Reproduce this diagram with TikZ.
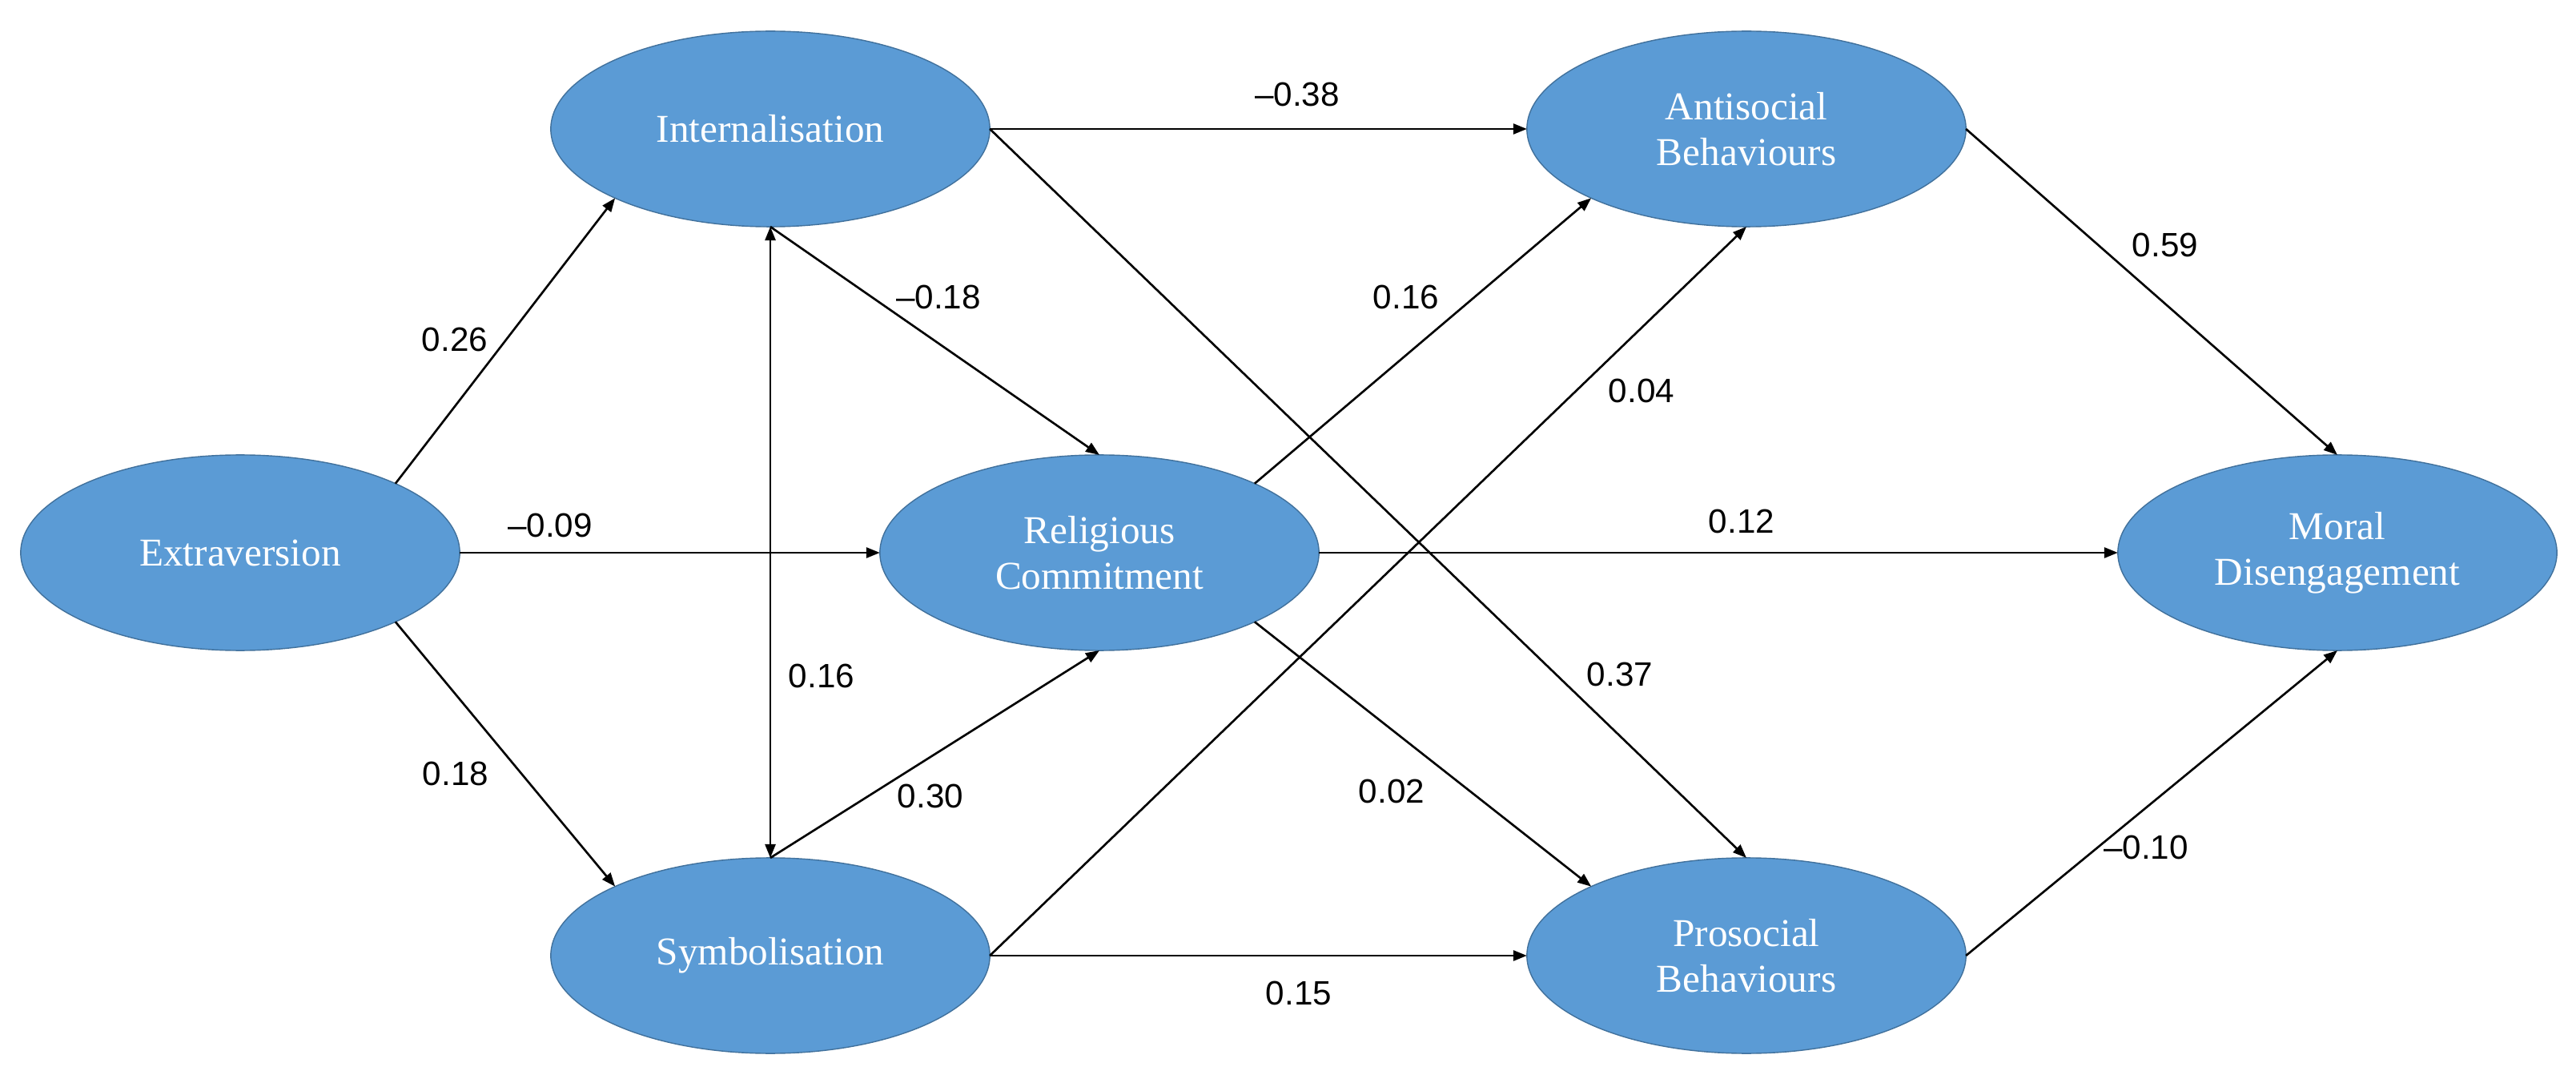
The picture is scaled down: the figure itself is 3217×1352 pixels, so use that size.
\documentclass[tikz,border=0pt]{standalone}
\usepackage{fontspec}
\setmainfont{Liberation Serif}
\newfontfamily\labfont{Liberation Sans}
\usetikzlibrary{arrows.meta,shapes.geometric}
\definecolor{ellfill}{HTML}{5B9BD5}
\definecolor{elldraw}{HTML}{41719C}
\begin{document}
\begin{tikzpicture}[x=0.01cm,y=-0.01cm,
  >={Triangle[length=0.17cm,width=0.13cm]},
  var/.style={ellipse, fill=ellfill, draw=elldraw, line width=0.4pt,
    minimum width=5.48cm, minimum height=2.44cm, inner sep=0pt, outer sep=0pt,
    text=white, align=center, font=\fontsize{14}{16.2}\selectfont},
  conn/.style={->, line width=0.75pt, black},
  coef/.style={font=\labfont\fontsize{12}{14}\selectfont, inner sep=0pt}]
\useasboundingbox (0,0) rectangle (3217,1352);

\node[var] (ext) at (300,690) {Extraversion};
\node[var] (int) at (962,161) {Internalisation};
\node[var] (rel) at (1373,690) {Religious\\Commitment};
\node[var] (sym) at (962,1193) {Symbolisation};
\node[var] (ant) at (2181,161) {Antisocial\\Behaviours};
\node[var] (pro) at (2181,1193) {Prosocial\\Behaviours};
\node[var] (mor) at (2919,690) {Moral\\Disengagement};

\draw[conn] (ext.north east) -- (int.south west);
\draw[conn] (ext.south east) -- (sym.north west);
\draw[conn] (ext.east) -- (rel.west);
\draw[conn,<->] (int.south) -- (sym.north);
\draw[conn] (int.south) -- (rel.north);
\draw[conn] (sym.north) -- (rel.south);
\draw[conn] (int.east) -- (ant.west);
\draw[conn] (int.east) -- (pro.north);
\draw[conn] (rel.north east) -- (ant.south west);
\draw[conn] (rel.east) -- (mor.west);
\draw[conn] (rel.south east) -- (pro.north west);
\draw[conn] (sym.east) -- (ant.south);
\draw[conn] (sym.east) -- (pro.west);
\draw[conn] (ant.east) -- (mor.north);
\draw[conn] (pro.east) -- (mor.south);

\node[coef] (c1) at (568,424) {0.26};
\node[coef] (c2) at (687,656) {–0.09};
\node[coef] (c3) at (569,966) {0.18};
\node[coef] (c4) at (1172,371) {–0.18};
\node[coef] (c5) at (1026,844) {0.16};
\node[coef] (c6) at (1162,994) {0.30};
\node[coef] (c7) at (1620,118) {–0.38};
\node[coef] (c8) at (1756,371) {0.16};
\node[coef] (c9) at (2050,488) {0.04};
\node[coef] (c10) at (2175,651) {0.12};
\node[coef] (c11) at (2023,842) {0.37};
\node[coef] (c12) at (1738,988) {0.02};
\node[coef] (c13) at (1622,1240) {0.15};
\node[coef] (c14) at (2704,306) {0.59};
\node[coef] (c15) at (2680,1058) {–0.10};
\end{tikzpicture}
\end{document}
